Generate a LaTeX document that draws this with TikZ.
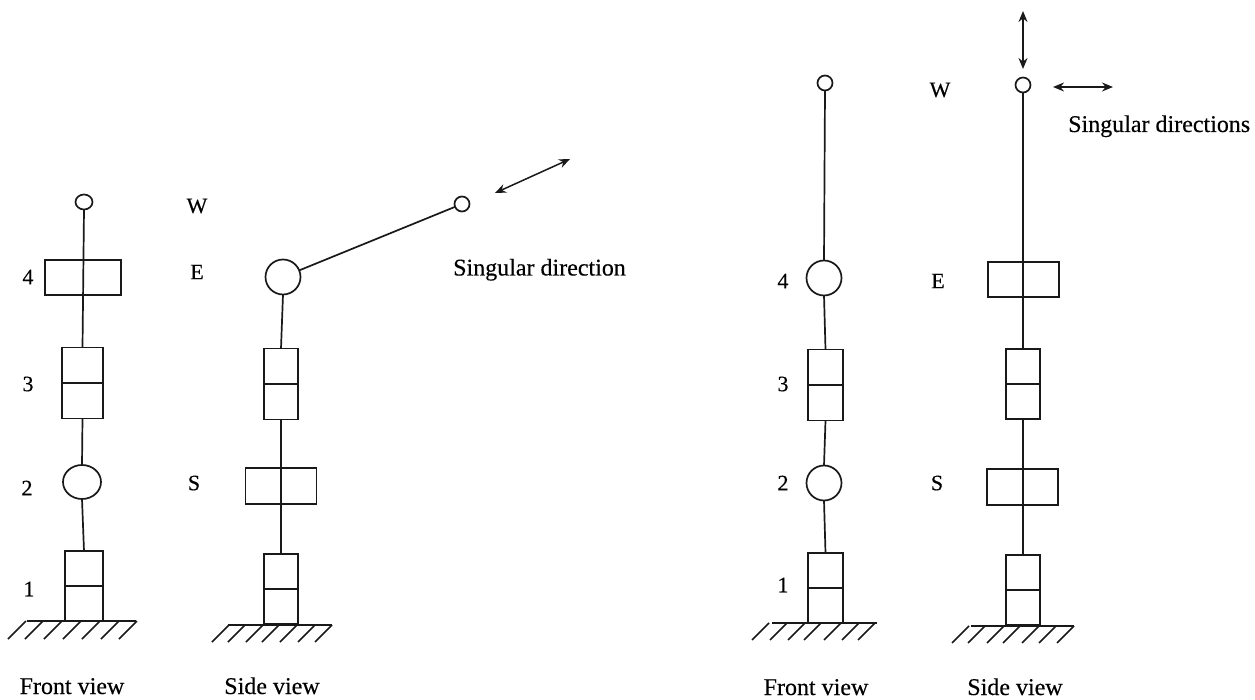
\documentclass[tikz,border=0pt]{standalone}
\usepackage{fontspec}
\setmainfont[FakeBold=0.3]{Liberation Serif}
\usetikzlibrary{arrows.meta,shapes.geometric}
\tikzset{
  x=1pt,y=-1pt,
  ln/.style={line width=1.7pt,black!90},
  box/.style={draw=black!90,line width=1.7pt,rectangle,inner sep=0pt,outer sep=0pt},
  jt/.style={draw=black!90,line width=1.7pt,ellipse,inner sep=0pt,outer sep=0pt},
  lab/.style={inner sep=0pt,font=\fontsize{22}{24}\selectfont},
  captext/.style={inner sep=0pt,anchor=base,font=\fontsize{24}{26}\selectfont},
  dbl/.style={line width=1.5pt,black!90,{Stealth[length=11pt,width=9pt]}-{Stealth[length=11pt,width=9pt]}}
}
\newcommand{\hatching}[5]{%
  \coordinate (gl) at (#1,#3);\coordinate (gr) at (#2,#3);
  \draw[ln] (gl) -- (gr);
  \foreach \fx in {#4}{\draw[ln,line width=1.5pt] (\fx,#3+#5) -- ++(#5,-#5);}
}
\begin{document}
\begin{tikzpicture}
\useasboundingbox (0,0) rectangle (1255,700);
% left front
\node[jt,minimum width=17pt,minimum height=15pt] (a0) at (84,202) {};
\node[box,minimum width=76pt,minimum height=35pt] (a4) at (83,277.5) {};
\node[box,minimum width=41pt,minimum height=71pt] (a3) at (82.5,383) {};
\node[jt,minimum width=38pt,minimum height=34pt] (a2) at (82,482) {};
\node[box,minimum width=38pt,minimum height=70pt] (a1) at (84,586) {};
\draw[ln] (a3.west) -- (a3.east) (a1.west) -- (a1.east);
\draw[ln] (a0.south) -- (a3.north);
\draw[ln] (a3.south) -- (a2.north);
\draw[ln] (a2.south) -- (a1.north);
\hatching{27}{136}{621}{8,25,44,63,82,101,119}{18}
% left side
\node[jt,minimum width=15pt,minimum height=15pt] (b0) at (462,204) {};
\node[jt,minimum width=35pt,minimum height=35pt] (b4) at (283,277) {};
\node[box,minimum width=34pt,minimum height=71pt] (b3) at (281,384) {};
\node[box,minimum width=71pt,minimum height=36pt] (b2) at (281,486) {};
\node[box,minimum width=34pt,minimum height=70pt] (b1) at (281,589) {};
\draw[ln] (b3.west) -- (b3.east) (b1.west) -- (b1.east);
\draw[ln] (b4.south) -- (b3.north);
\draw[ln] (b3.south) -- (b1.north);
\draw[ln] (b4) -- (b0);
\hatching{228}{332}{625}{212,228,246,262,280,298,315}{17}
% right front
\node[jt,minimum width=15pt,minimum height=15pt] (c0) at (825,83) {};
\node[jt,minimum width=35pt,minimum height=35pt] (c4) at (824,278) {};
\node[box,minimum width=35pt,minimum height=71pt] (c3) at (825.5,385) {};
\node[jt,minimum width=35pt,minimum height=35pt] (c2) at (824,483) {};
\node[box,minimum width=35pt,minimum height=70pt] (c1) at (825.5,588) {};
\draw[ln] (c3.west) -- (c3.east) (c1.west) -- (c1.east);
\draw[ln] (c0.south) -- (c4.north);
\draw[ln] (c4.south) -- (c3.north);
\draw[ln] (c3.south) -- (c2.north);
\draw[ln] (c2.south) -- (c1.north);
\hatching{772}{877}{623}{752,770,788,804,824,842,858}{17}
% right side
\node[jt,minimum width=15pt,minimum height=15pt] (d0) at (1023,85) {};
\node[box,minimum width=71pt,minimum height=35pt] (d4) at (1023.5,279.5) {};
\node[box,minimum width=34pt,minimum height=70pt] (d3) at (1023,384) {};
\node[box,minimum width=71pt,minimum height=36pt] (d2) at (1022.5,487) {};
\node[box,minimum width=34pt,minimum height=70pt] (d1) at (1023,590) {};
\draw[ln] (d3.west) -- (d3.east) (d1.west) -- (d1.east);
\draw[ln] (d0.south) -- (d3.north);
\draw[ln] (d3.south) -- (d1.north);
\hatching{971}{1074}{626}{952,968,987,1003,1022,1039,1057}{17}
% arrows
\coordinate (e1) at (495,193);\coordinate (e2) at (570,159);
\draw[dbl] (e1) -- (e2);
\coordinate (f1) at (1023,11);\coordinate (f2) at (1023,69);
\draw[dbl] (f1) -- (f2);
\coordinate (g1) at (1053,87);\coordinate (g2) at (1113,87);
\draw[dbl] (g1) -- (g2);
% labels
\node[lab] (l1) at (28,277) {4};
\node[lab] (l2) at (28,384) {3};
\node[lab] (l3) at (27,488) {2};
\node[lab] (l4) at (29,589) {1};
\node[lab] (l5) at (197,206) {W};
\node[lab] (l6) at (197,272) {E};
\node[lab] (l7) at (194,483) {S};
\node[lab] (l8) at (783,281) {4};
\node[lab] (l9) at (783,384) {3};
\node[lab] (l10) at (783,483) {2};
\node[lab] (l11) at (783,585) {1};
\node[lab] (l12) at (940,90) {W};
\node[lab] (l13) at (938,281) {E};
\node[lab] (l14) at (937,483) {S};
\node[captext,anchor=base west] (t1) at (453,275.5) {Singular direction};
\node[captext,anchor=base west] (t2) at (1068,132) {Singular directions};
\node[captext] (t3) at (72,694) {Front view};
\node[captext] (t4) at (272,694) {Side view};
\node[captext] (t5) at (816,695) {Front view};
\node[captext] (t6) at (1015,695) {Side view};
\end{tikzpicture}
\end{document}
